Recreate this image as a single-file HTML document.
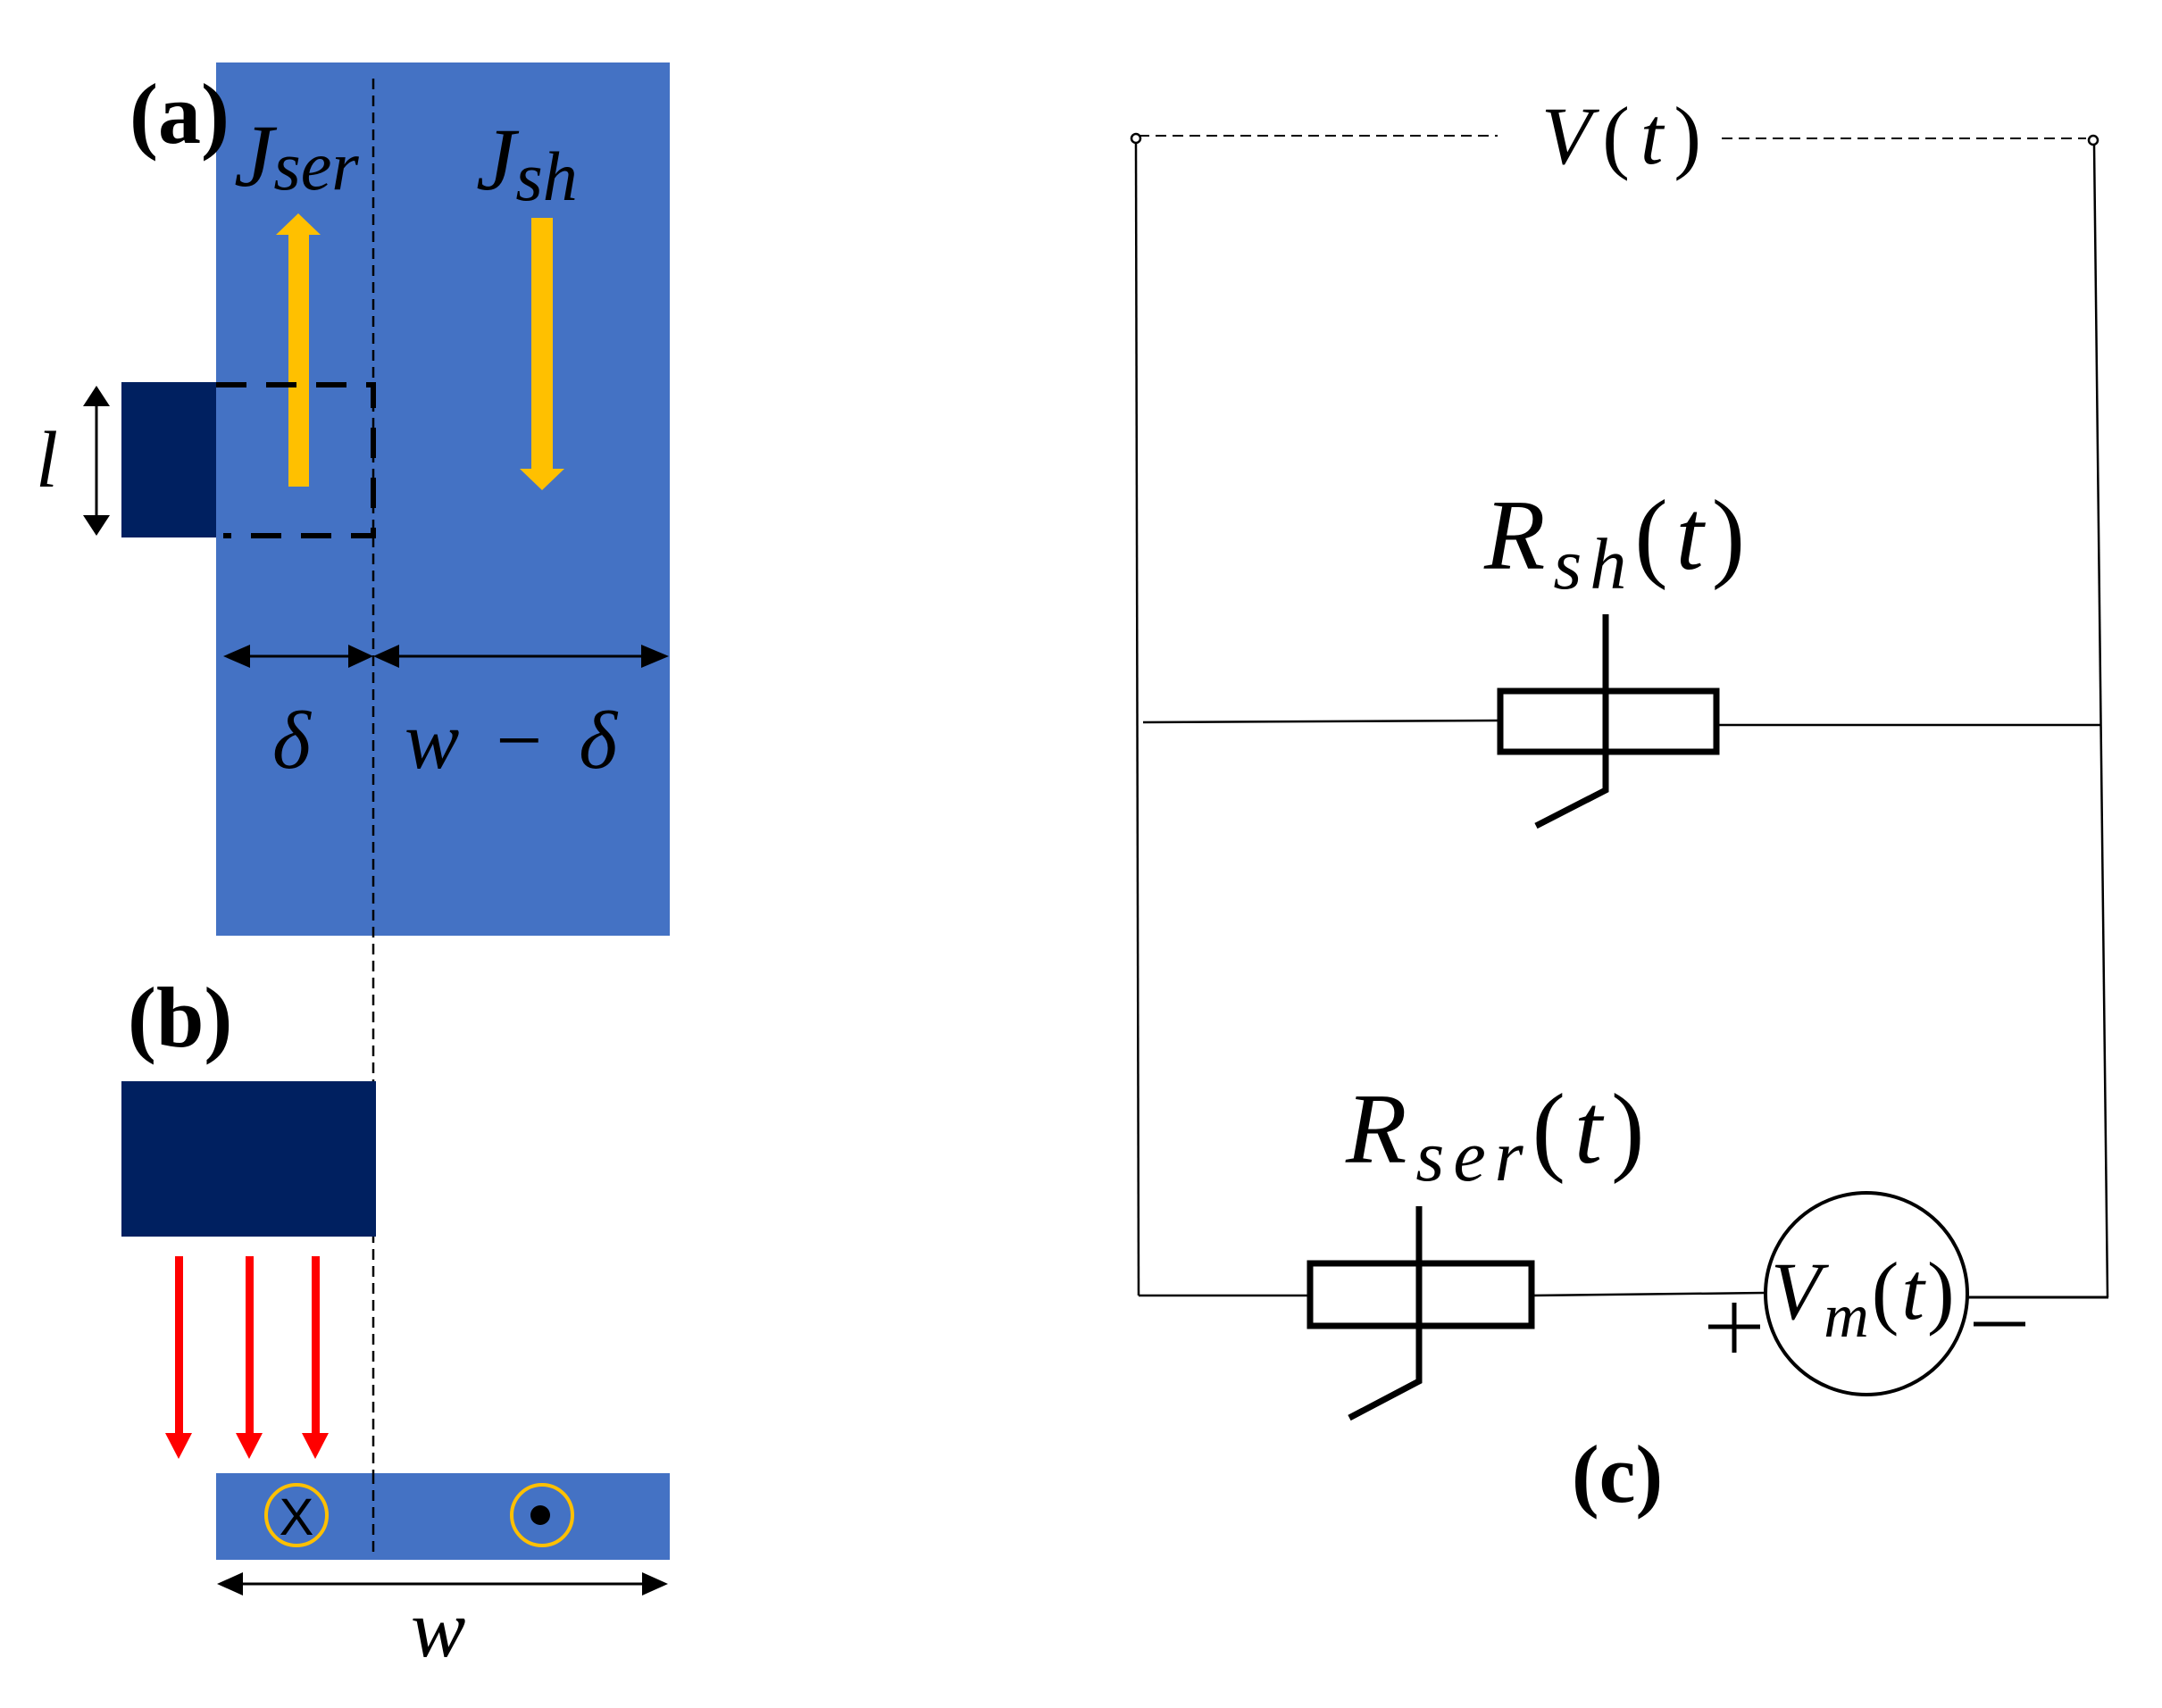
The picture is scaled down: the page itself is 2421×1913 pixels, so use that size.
<!DOCTYPE html>
<html><head><meta charset="utf-8"><style>
html,body{margin:0;padding:0;background:#fff}
svg{display:block}
.m{font-family:"Liberation Serif",serif;font-style:italic}
.b{font-family:"Liberation Serif",serif;font-weight:bold}
</style></head><body>
<svg width="2421" height="1913" viewBox="0 0 2421 1913" xmlns="http://www.w3.org/2000/svg">
<!-- Panel a -->
<rect x="242" y="70" width="508" height="978" fill="#4472C4"/>
<rect x="136" y="428" width="106" height="174" fill="#002060"/>
<text x="145" y="160" class="b" font-size="96">(a)</text>
<text x="262" y="208" class="m" font-size="100">J<tspan font-size="78" dy="4">ser</tspan></text>
<text x="533" y="212" class="m" font-size="100">J<tspan font-size="78" dy="12">sh</tspan></text>
<!-- yellow arrows -->
<rect x="323" y="263" width="23" height="282" fill="#FFC000"/>
<polygon points="309,263 359,263 334,239" fill="#FFC000"/>
<rect x="595" y="244" width="24" height="281" fill="#FFC000"/>
<polygon points="582,525 632,525 607,549" fill="#FFC000"/>
<!-- dashed rect -->
<path d="M242,431 H418 V600 H250" fill="none" stroke="#000" stroke-width="6" stroke-dasharray="34,22"/>
<!-- dashed center line -->
<line x1="418" y1="88" x2="418" y2="1738" stroke="#000" stroke-width="2.5" stroke-dasharray="12,7"/>
<!-- l arrow -->
<line x1="108" y1="450" x2="108" y2="582" stroke="#000" stroke-width="3"/>
<polygon points="93,455 123,455 108,432" fill="#000"/>
<polygon points="93,577 123,577 108,600" fill="#000"/>
<text x="40" y="545" class="m" font-size="90">l</text>
<!-- dims -->
<line x1="270" y1="735" x2="395" y2="735" stroke="#000" stroke-width="3"/>
<polygon points="250,735 280,722 280,748" fill="#000"/>
<polygon points="418,735 390,722 390,748" fill="#000"/>
<line x1="440" y1="735" x2="725" y2="735" stroke="#000" stroke-width="3"/>
<polygon points="418,735 447,722 447,748" fill="#000"/>
<polygon points="749,735 718,722 718,748" fill="#000"/>
<text x="305" y="860" class="m" font-size="92">δ</text>
<text x="453" y="860" class="m" font-size="92" letter-spacing="9">w <tspan font-style="normal">−</tspan> δ</text>
<!-- Panel b -->
<text x="143" y="1172" class="b" font-size="96">(b)</text>
<rect x="136" y="1211" width="285" height="174" fill="#002060"/>
<g fill="#FF0000">
<rect x="196" y="1407" width="9" height="200"/><polygon points="185,1605 215,1605 200,1634"/>
<rect x="275" y="1407" width="9" height="200"/><polygon points="264,1605 294,1605 279,1634"/>
<rect x="349" y="1407" width="9" height="200"/><polygon points="338,1605 368,1605 353,1634"/>
</g>
<rect x="242" y="1650" width="508" height="97" fill="#4472C4"/>
<line x1="418" y1="1650" x2="418" y2="1738" stroke="#000" stroke-width="2.5" stroke-dasharray="12,7"/>
<circle cx="332" cy="1697" r="34" fill="none" stroke="#FFC000" stroke-width="4"/>
<text x="332" y="1719" font-family="Liberation Sans,sans-serif" font-size="58" text-anchor="middle" fill="#000">X</text>
<circle cx="607" cy="1697" r="34" fill="none" stroke="#FFC000" stroke-width="4"/>
<circle cx="605" cy="1697" r="11" fill="#000"/>
<line x1="265" y1="1774" x2="725" y2="1774" stroke="#000" stroke-width="3"/>
<polygon points="243,1774 272,1761 272,1787" fill="#000"/>
<polygon points="748,1774 719,1761 719,1787" fill="#000"/>
<text x="460" y="1855" class="m" font-size="92">w</text>
<!-- Panel c -->
<g stroke="#000" fill="none">
<line x1="1275" y1="152" x2="1677" y2="152" stroke-width="2" stroke-dasharray="12,7"/>
<line x1="1928" y1="155" x2="2336" y2="155" stroke-width="2" stroke-dasharray="12,7"/>
<circle cx="1272" cy="155" r="5" stroke-width="2.5"/>
<circle cx="2344" cy="157" r="5" stroke-width="2.5"/>
<line x1="1272" y1="160" x2="1275" y2="1451" stroke-width="2.5"/>
<line x1="2345" y1="162" x2="2360" y2="1453" stroke-width="2.5"/>
<line x1="1280" y1="809" x2="1677" y2="807" stroke-width="2.5"/>
<line x1="1925" y1="812" x2="2352" y2="812" stroke-width="2.5"/>
<rect x="1680" y="774" width="242" height="68" stroke-width="7"/>
<polyline points="1798,688 1798,885 1720,925" stroke-width="7"/>
<line x1="1275" y1="1451" x2="1467" y2="1451" stroke-width="2.5"/>
<rect x="1467" y="1415" width="248" height="70" stroke-width="7"/>
<line x1="1715" y1="1451" x2="1976" y2="1448" stroke-width="2.5"/>
<polyline points="1589,1351 1589,1547 1511,1588" stroke-width="7"/>
<circle cx="2090" cy="1449" r="113" stroke-width="4"/>
<line x1="2204" y1="1453" x2="2361" y2="1453" stroke-width="3"/>
<line x1="1913" y1="1486" x2="1971" y2="1486" stroke-width="5"/>
<line x1="1942" y1="1459" x2="1942" y2="1515" stroke-width="5"/>
<line x1="2210" y1="1483" x2="2268" y2="1483" stroke-width="5"/>
</g>
<text x="1726" y="183" class="m" font-size="92" letter-spacing="12">V<tspan font-style="normal">(</tspan>t<tspan font-style="normal">)</tspan></text>
<text x="1662" y="637" class="m" font-size="112" letter-spacing="9">R<tspan font-size="82" dy="22">sh</tspan><tspan font-style="normal" dy="-22">(</tspan>t<tspan font-style="normal">)</tspan></text>
<text x="1507" y="1302" class="m" font-size="112" letter-spacing="10">R<tspan font-size="82" dy="20">ser</tspan><tspan font-style="normal" dy="-20">(</tspan>t<tspan font-style="normal">)</tspan></text>
<text x="1983" y="1477" class="m" font-size="92" letter-spacing="3">V<tspan font-size="70" dy="20">m</tspan><tspan font-style="normal" dy="-20">(</tspan>t<tspan font-style="normal">)</tspan></text>
<text x="1760" y="1682" class="b" font-size="92">(c)</text>
</svg>
</body></html>
